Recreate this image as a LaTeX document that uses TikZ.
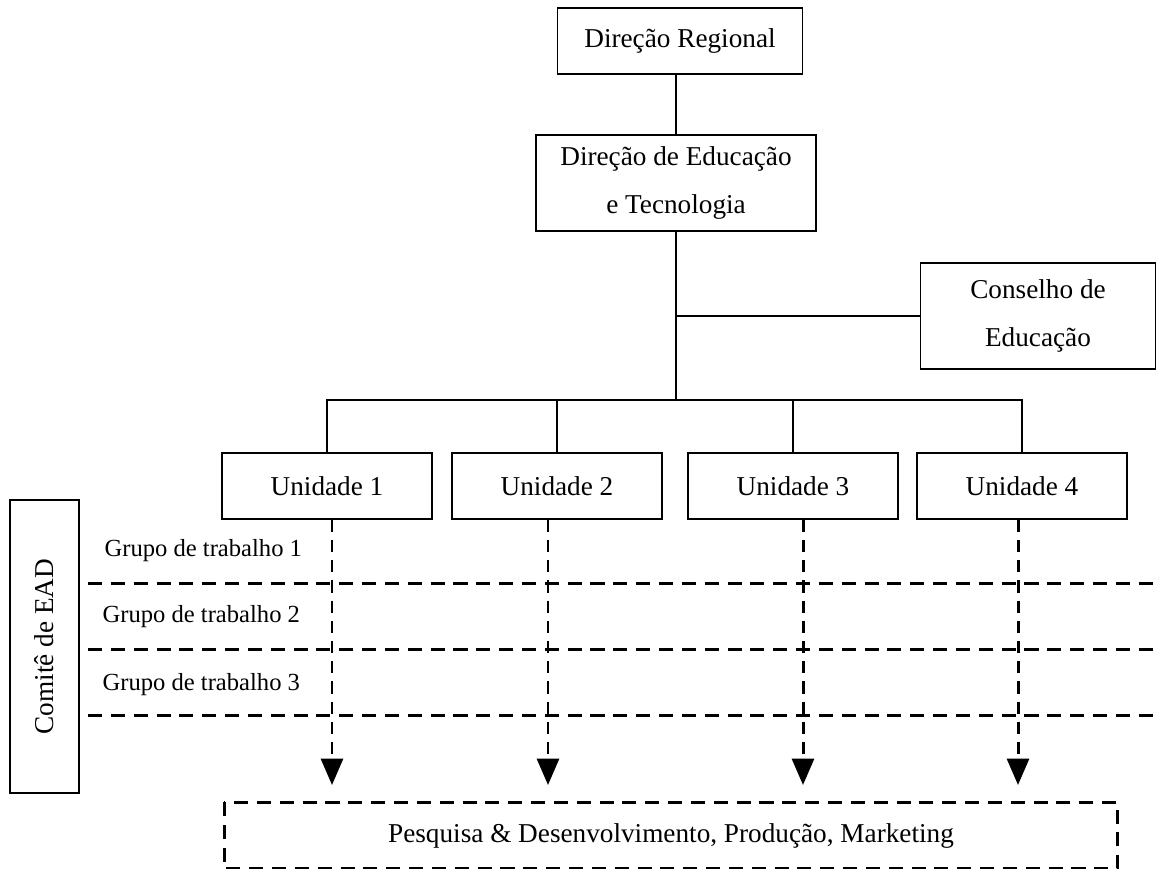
\documentclass[tikz,border=0pt]{standalone}
\usepackage{fontspec}
\setmainfont{Liberation Serif}
\usetikzlibrary{arrows.meta}
\usetikzlibrary{positioning}

\begin{document}
\begin{tikzpicture}[x=0.02cm,y=-0.02cm,>={Triangle[width=12.5pt,length=15pt]},
                    line width=0.85pt,
                    main node/.style={rectangle,draw,inner sep=0pt,align=center,
                      font=\fontsize{15.5}{27}\selectfont},
                    unit node/.style={main node,minimum width=4.2cm,minimum height=1.32cm},
                    group label/.style={anchor=west,font=\fontsize{14}{16}\selectfont},
                    sep line/.style={dash pattern=on 8pt off 5pt,line width=1.7pt},
                    flow/.style={->,dash pattern=on 7pt off 4.5pt,line width=1.7pt}]
  \useasboundingbox (0,0) rectangle (1157,869);

  \node[main node,minimum width=4.9cm,minimum height=1.32cm] (dr) at (680,41) {Direção Regional};
  \node[main node,minimum width=5.6cm,minimum height=1.92cm] (det) at (676,183) {Direção de Educação\\e Tecnologia};
  \node[main node,minimum width=4.7cm,minimum height=2.12cm] (cons) at (1038,316) {Conselho de\\Educação};

  \node[unit node] (u1) at (327,486) {Unidade 1};
  \node[unit node] (u2) at (557,486) {Unidade 2};
  \node[unit node] (u3) at (793,486) {Unidade 3};
  \node[unit node] (u4) at (1022,486) {Unidade 4};

  \node[main node,rotate=90,minimum width=5.86cm,minimum height=1.38cm] (comite) at (44.5,646.5) {Comitê de EAD};
  \node[main node,draw=none,minimum width=17.84cm,minimum height=1.3cm] (pd) at (671,835.5) {Pesquisa \& Desenvolvimento, Produção, Marketing};
  \draw[sep line] (pd.north west) rectangle (pd.south east);

  \node[group label] (g1) at (98,551) {Grupo de trabalho 1};
  \node[group label] (g2) at (96,617) {Grupo de trabalho 2};
  \node[group label] (g3) at (96,685) {Grupo de trabalho 3};

  \coordinate (bus) at (676,400);

  \draw (det.north) -- (det.north |- dr.south);
  \draw (det.south) -- (bus);
  \draw (cons.west) -- (cons.west -| det.south);
  \draw (u1.north) -- (u1.north |- bus) -- (u4.north |- bus) -- (u4.north);
  \foreach \u in {u2,u3}
    \draw (\u.north) -- (\u.north |- bus);

  % grupos de trabalho
  \foreach \y in {583,649,715}
    \draw[sep line] (88,\y) -- (1157,\y);

  % setas das unidades
  \foreach \u/\x in {u1/332,u2/548,u3/803,u4/1018}
    \draw[flow] (\u.south -| \x,0) -- (\x,785);
\end{tikzpicture}
\end{document}
